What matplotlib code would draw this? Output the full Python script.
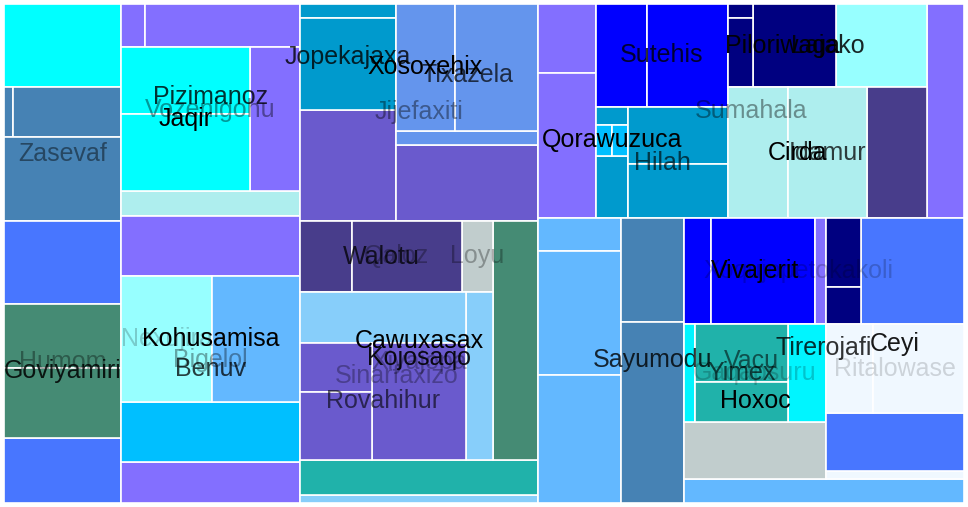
import matplotlib.pyplot as plt
from matplotlib.patches import Rectangle

# treemap nodes: id, parent, value (leaves only), colour (leaves only)
node_ids = [
    'A', 'B', 'C', 'D',
    'a_cyan', 'Zasevaf', 'Humom', 'za_row', 'za_1', 'za_2', 'za_3',
    'hu_1', 'Goviyamiri', 'hu_2', 'go_1', 'go_2',
    'Vozenigohu', 'Bigelol', 'Pizimanoz', 'vo_pt', 'pi_row1', 'pi_row2',
    'pi_p1', 'pi_p2', 'Jaqir', 'pi_p3', 'ja_1', 'ja_2',
    'Kohusamisa', 'bi_p', 'ko_p', 'Benuv', 'be_row', 'be_dsb', 'Nexujira', 'be_lb',
    'Jijefaxiti', 'Xiyajopa', 'ji_l', 'ji_r', 'Jopekajaxa', 'ji_sb1', 'jo_1', 'jo_2',
    'Tixazela', 'ji_sb2', 'ti_row', 'ti_strip', 'Xosoxehix', 'ti_2',
    'Kojosaqo', 'xi_strip', 'Cawuxasax', 'ko_lsg', 'ca_l', 'ca_sg',
    'Qaloz', 'Sinarfaxizo', 'Walotu', 'Loyu', 'wa_1', 'wa_2',
    'si_l', 'si_strip', 'si_top', 'Rovahihur', 'ro_col', 'ro_3', 'ro_1', 'ro_2',
    'Sumahala', 'Vacu', 'su_p', 'su_mid', 'su_r', 'su_p3', 'su_p1', 'su_p2',
    'Sutehis', 'Hilah', 'st_1', 'st_2', 'hi_l', 'hi_r',
    'hi_t1', 'Qorawuzuca', 'hi_t2', 'qo_1', 'qo_2', 'hi_t3', 'hi_t4',
    'Lajako', 'su_row', 'Piloriwaga', 'la_pc', 'pl_col', 'pl_3', 'pl_1', 'pl_2',
    'Cirda', 'su_dsb', 'ci_1', 'Idamur',
    'va_col', 'Sayumodu', 'va_r', 'vc_1', 'vc_2', 'vc_3', 'sa_1', 'sa_2',
    'Tirerojafi', 'va_strip', 'tr_left', 'tr_right', 'Vivajerit', 'Hoxoc',
    'vi_1', 'vi_2', 'vi_3', 'Gaqapsuru', 'ho_s', 'ga_1', 'Yimex', 'ga_2', 'yi_1', 'yi_2',
    'Ceyi', 'tr_strip', 'ce_row', 'Ritalowase', 'ce_rb', 'ce_col', 'ce_rb0',
    'ce_n1', 'ce_n2', 'ri_1', 'ri_2',
]
node_parents = [
    'root', 'root', 'root', 'root',
    'A', 'A', 'A', 'Zasevaf', 'za_row', 'za_row', 'Zasevaf',
    'Humom', 'Humom', 'Humom', 'Goviyamiri', 'Goviyamiri',
    'B', 'B', 'Vozenigohu', 'Vozenigohu', 'Pizimanoz', 'Pizimanoz',
    'pi_row1', 'pi_row1', 'pi_row2', 'pi_row2', 'Jaqir', 'Jaqir',
    'Bigelol', 'Bigelol', 'Kohusamisa', 'Kohusamisa', 'Benuv', 'Benuv', 'be_row', 'be_row',
    'C', 'C', 'Jijefaxiti', 'Jijefaxiti', 'ji_l', 'ji_l', 'Jopekajaxa', 'Jopekajaxa',
    'ji_r', 'ji_r', 'Tixazela', 'Tixazela', 'ti_row', 'ti_row',
    'Xiyajopa', 'Xiyajopa', 'Kojosaqo', 'Kojosaqo', 'Cawuxasax', 'Cawuxasax',
    'ca_l', 'ca_l', 'Qaloz', 'Qaloz', 'Walotu', 'Walotu',
    'Sinarfaxizo', 'Sinarfaxizo', 'si_l', 'si_l', 'Rovahihur', 'Rovahihur', 'ro_col', 'ro_col',
    'D', 'D', 'Sumahala', 'Sumahala', 'Sumahala', 'Sumahala', 'su_p', 'su_p',
    'su_mid', 'su_mid', 'Sutehis', 'Sutehis', 'Hilah', 'Hilah',
    'hi_l', 'hi_l', 'hi_l', 'Qorawuzuca', 'Qorawuzuca', 'hi_r', 'hi_r',
    'su_r', 'su_r', 'Lajako', 'Lajako', 'Piloriwaga', 'Piloriwaga', 'pl_col', 'pl_col',
    'su_row', 'su_row', 'Cirda', 'Cirda',
    'Vacu', 'Vacu', 'Vacu', 'va_col', 'va_col', 'va_col', 'Sayumodu', 'Sayumodu',
    'va_r', 'va_r', 'Tirerojafi', 'Tirerojafi', 'tr_left', 'tr_left',
    'Vivajerit', 'Vivajerit', 'Vivajerit', 'Hoxoc', 'Hoxoc', 'Gaqapsuru', 'Gaqapsuru', 'Gaqapsuru', 'Yimex', 'Yimex',
    'tr_right', 'tr_right', 'Ceyi', 'Ceyi', 'Ceyi', 'ce_row', 'ce_row',
    'ce_col', 'ce_col', 'Ritalowase', 'Ritalowase',
]
node_values = [
    0, 0, 0, 0,
    9711, 0, 0, 0, 450, 5400, 9828,
    9711, 0, 7605, 7488, 8190,
    0, 0, 0, 4475, 0, 0,
    1032, 6665, 0, 7200, 8643, 9933,
    0, 7339, 10740, 0, 0, 10740, 11466, 11088,
    0, 0, 0, 0, 0, 10656, 1344, 8832,
    0, 10792, 0, 1988, 7493, 10541,
    0, 1904, 0, 8330, 0, 10755,
    0, 0, 0, 2201, 3692, 7810,
    0, 4536, 8466, 0, 0, 10998, 3528, 4896,
    0, 0, 0, 0, 0, 7918, 4002, 8410,
    0, 0, 5253, 8343, 0, 0,
    576, 0, 1984, 496, 496, 5700, 5400,
    0, 0, 0, 7553, 0, 6889, 350, 1725,
    0, 7860, 7860, 10349,
    0, 0, 0, 2739, 10292, 10624, 6552, 11403,
    0, 6720, 0, 0, 0, 0,
    2862, 11024, 1166, 0, 8094, 1078, 0, 3724, 5394, 3720,
    0, 1104, 0, 0, 8004, 0, 10918,
    2415, 1295, 4183, 8099,
]
node_colors = [
    None, None, None, None,
    '#00FFFF', None, None, None, '#4682B4', '#4682B4', '#4682B4',
    '#4876FF', None, '#4876FF', '#458B74', '#458B74',
    None, None, None, '#AEEEEE', None, None,
    '#836FFF', '#836FFF', None, '#836FFF', '#00FFFF', '#00FFFF',
    None, '#836FFF', '#836FFF', None, None, '#00BFFF', '#97FFFF', '#63B8FF',
    None, None, None, None, None, '#6A5ACD', '#009ACD', '#009ACD',
    None, '#6A5ACD', None, '#6495ED', '#6495ED', '#6495ED',
    None, '#87CEFA', None, '#20B2AA', None, '#458B74',
    None, None, None, '#C1CDCD', '#483D8B', '#483D8B',
    None, '#87CEFA', '#87CEFA', None, None, '#6A5ACD', '#6A5ACD', '#6A5ACD',
    None, None, None, None, None, '#836FFF', '#836FFF', '#836FFF',
    None, None, '#0000FF', '#0000FF', None, None,
    '#009ACD', None, '#009ACD', '#00BFFF', '#00BFFF', '#009ACD', '#009ACD',
    None, None, None, '#97FFFF', None, '#000080', '#000080', '#000080',
    None, '#483D8B', '#AEEEEE', '#AEEEEE',
    None, None, None, '#63B8FF', '#63B8FF', '#63B8FF', '#4682B4', '#4682B4',
    None, '#63B8FF', None, None, None, None,
    '#0000FF', '#0000FF', '#836FFF', None, '#C1CDCD', '#00F5FF', None, '#00F5FF', '#20B2AA', '#20B2AA',
    None, '#F0F8FF', None, None, '#4876FF', None, '#4876FF',
    '#000080', '#000080', '#F0F8FF', '#F0F8FF',
]

# groups laid side by side ('h'); every other group is stacked
row_groups = ['root', 'za_row', 'pi_row1', 'pi_row2', 'be_row', 'Jijefaxiti', 'ti_row',
              'Cawuxasax', 'Qaloz', 'Walotu', 'Sinarfaxizo', 'Rovahihur', 'Sumahala',
              'Sutehis', 'Hilah', 'Qorawuzuca', 'Lajako', 'Piloriwaga', 'su_row', 'Cirda',
              'Vacu', 'Tirerojafi', 'Vivajerit', 'Gaqapsuru', 'ce_row', 'Ritalowase']

# labels shown on the chart
label_nodes = ['Zasevaf', 'Humom', 'Goviyamiri', 'Vozenigohu', 'Pizimanoz', 'Jaqir',
               'Bigelol', 'Nexujira', 'Kohusamisa', 'Benuv',
               'Jijefaxiti', 'Jopekajaxa', 'Xosoxehix', 'Tixazela',
               'Xiyajopa', 'Sinarfaxizo', 'Qaloz', 'Loyu', 'Walotu', 'Rovahihur',
               'Cawuxasax', 'Kojosaqo',
               'Sumahala', 'Sutehis', 'Hilah', 'Qorawuzuca', 'Piloriwaga', 'Lajako',
               'Cirda', 'Idamur',
               'Vacu', 'Sayumodu', 'Vivajerit', 'Gaqapsuru', 'Yimex', 'Hoxoc',
               'Ritalowase', 'Tirerojafi', 'Ceyi']
label_alpha = [0.45, 0.35, 0.85, 0.4, 0.8, 1.0,
               0.35, 0.2, 1.0, 0.75,
               0.4, 0.8, 1.0, 0.7,
               0.3, 0.3, 0.3, 0.3, 0.75, 0.6,
               1.0, 0.9,
               0.4, 0.8, 0.65, 1.0, 0.95, 0.85,
               1.0, 0.75,
               0.55, 0.8, 1.0, 0.2, 0.65, 1.0,
               0.15, 0.8, 0.9]
faded_label = 'Xoqujopetokakoli'

children = {}
for nid, par in zip(node_ids, node_parents):
    children.setdefault(par, []).append(nid)
value = dict(zip(node_ids, node_values))
color = dict(zip(node_ids, node_colors))


def total(n):
    if n in children:
        return sum(total(k) for k in children[n])
    return value[n]


rects = {}


def layout(n, x, y, w, h):
    rects[n] = (x, y, w, h)
    if n not in children:
        return
    s = total(n)
    pos = x if n in row_groups else y
    for k in children[n]:
        f = total(k) / s
        if n in row_groups:
            layout(k, pos, y, w * f, h)
            pos += w * f
        else:
            layout(k, x, pos, w, h * f)
            pos += h * f


W, H = 960, 499
layout('root', 0, 0, W, H)

fig = plt.figure(figsize=(9.68, 5.07), dpi=100)
ax = fig.add_axes([4 / 968, 4 / 507, W / 968, H / 507])
ax.set_xlim(0, W)
ax.set_ylim(H, 0)
ax.axis('off')

for nid in node_ids:
    if nid not in children:
        x, y, w, h = rects[nid]
        ax.add_patch(Rectangle((x, y), w, h, facecolor=color[nid],
                               edgecolor='white', linewidth=1.2))

# faded label sitting across the Vivajerit row
x, y, w, h = rects['Vivajerit']
ax.text(x + w / 2 + 43, y + h / 2, faded_label, ha='center', va='center',
        fontsize=18, family='Liberation Sans', color='black', alpha=0.2)

for name, a in zip(label_nodes, label_alpha):
    x, y, w, h = rects[name]
    ax.text(x + w / 2, y + h / 2, name, ha='center', va='center',
            fontsize=18, family='Liberation Sans', color='black', alpha=a)

plt.savefig('out.png', dpi=100)
